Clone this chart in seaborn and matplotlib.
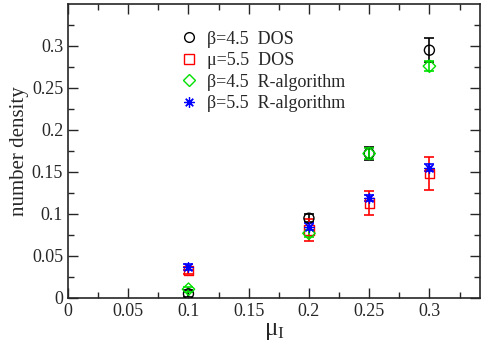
import matplotlib
matplotlib.use("Agg")
import matplotlib.pyplot as plt
import seaborn as sns
import pandas as pd
from matplotlib.lines import Line2D

mu = [0.1, 0.2, 0.25, 0.3]

dos45 = [0.005, 0.095, 0.172, 0.295]
dos45_err = [0.004, 0.005, 0.008, 0.014]

dos55 = [0.033, 0.081, 0.113, 0.148]
dos55_err = [0.004, 0.013, 0.014, 0.020]

ralg45 = [0.0105, 0.077, 0.172, 0.276]
ralg45_err = [0.003, 0.004, 0.006, 0.006]

ralg55 = [0.037, 0.085, 0.119, 0.155]
ralg55_err = [0.004, 0.004, 0.004, 0.004]

labels = ["β=4.5  DOS", "μ=5.5  DOS", "β=4.5  R-algorithm", "β=5.5  R-algorithm"]
colors = ["black", "red", "#00e000", "blue"]
markers = ["o", "s", "D", (8, 2, 0)]
sizes = [52, 45, 40, 50]

xticks = [0, 0.05, 0.1, 0.15, 0.2, 0.25, 0.3]
xticklabels = ["0", "0.05", "0.1", "0.15", "0.2", "0.25", "0.3"]
yticks = [0, 0.05, 0.1, 0.15, 0.2, 0.25, 0.3]
yticklabels = ["0", "0.05", "0.1", "0.15", "0.2", "0.25", "0.3"]

sns.set_style("ticks")
plt.rcParams["font.family"] = ["Liberation Serif", "DejaVu Serif"]
plt.rcParams["mathtext.fontset"] = "custom"
plt.rcParams["mathtext.rm"] = "Liberation Serif"
plt.rcParams["mathtext.it"] = "Liberation Serif:italic"

fig = plt.figure(figsize=(4.84, 3.45), dpi=100)
ax = fig.add_axes([68 / 484, 1 - 298 / 345, (480 - 68) / 484, (298 - 4) / 345])

series = [(dos45, dos45_err), (dos55, dos55_err), (ralg45, ralg45_err), (ralg55, ralg55_err)]
handles = []
for (vals, errs), lab, c, m, s in zip(series, labels, colors, markers, sizes):
    df = pd.DataFrame({"mu": mu, "n": vals})
    ax.errorbar(mu, vals, yerr=errs, fmt="none", ecolor=c, elinewidth=1.2,
                capsize=3.3, capthick=1.2, zorder=2)
    if isinstance(m, tuple):
        sns.scatterplot(data=df, x="mu", y="n", marker=m, s=s, color=c,
                        linewidth=0.9, ax=ax, zorder=3, legend=False)
        handles.append(Line2D([], [], marker=m, linestyle="none", color=c,
                              markersize=7.5, markeredgewidth=0.9, label=lab))
    else:
        sns.scatterplot(data=df, x="mu", y="n", marker=m, s=s, facecolor="none",
                        edgecolor=c, linewidth=1.0, ax=ax, zorder=3, legend=False)
        handles.append(Line2D([], [], marker=m, linestyle="none", markerfacecolor="none",
                              markeredgecolor=c, markersize=7 if m != "D" else 6.3,
                              markeredgewidth=1.0, label=lab))

ax.set_xlim(0, 0.342)
ax.set_ylim(0, 0.35)
ax.set_xticks(xticks)
ax.set_xticklabels(xticklabels)
ax.set_yticks(yticks)
ax.set_yticklabels(yticklabels)
ax.set_xticks([0.025, 0.075, 0.125, 0.175, 0.225, 0.275, 0.325], minor=True)
ax.set_yticks([0.025, 0.075, 0.125, 0.175, 0.225, 0.275, 0.325], minor=True)
ax.tick_params(which="both", direction="in", top=True, right=True, labelsize=13, width=1)
ax.tick_params(which="major", length=7)
ax.tick_params(which="minor", length=4)
for sp in ax.spines.values():
    sp.set_linewidth(1.2)

ax.set_xlabel(r"$\mathrm{μ_I}$", fontsize=18, labelpad=0)
ax.set_ylabel("number density", fontsize=15, labelpad=2)

ax.legend(handles=handles, loc="upper left", bbox_to_anchor=(0.25, 0.94), frameon=False,
          fontsize=13, handletextpad=0.5, labelspacing=0.25, borderpad=0, handlelength=1.0)

fig.savefig("out.png", dpi=100)
